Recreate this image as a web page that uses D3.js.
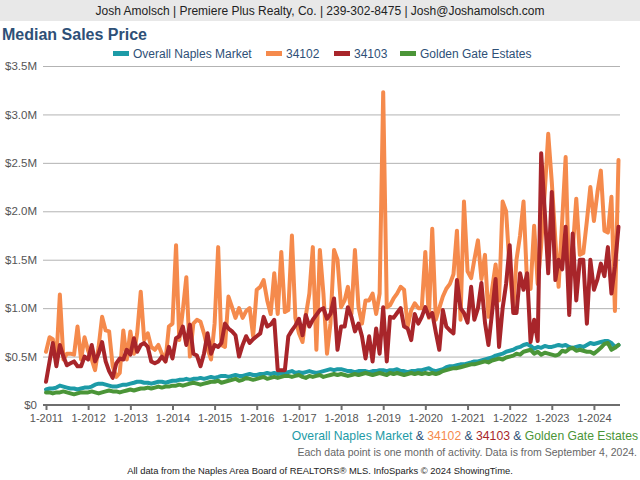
<!DOCTYPE html>
<html><head><meta charset="utf-8">
<script src="https://cdn.jsdelivr.net/npm/d3@7"></script>
<style>body{margin:0;background:#fff}svg{display:block;font-family:"Liberation Sans",Arial,sans-serif}</style>
</head><body>
<svg id="c" width="640" height="480"></svg>
<script>
const seriesNames = ["Overall Naples Market","34102","34103","Golden Gate Estates"];
const seriesColors = ["#1d9ba7","#f58a4c","#a8252a","#4b9538"];
const startMonth = "2011-01";
const yTicks = [0,0.5,1.0,1.5,2.0,2.5,3.0,3.5];
const xTickYears = [2011,2012,2013,2014,2015,2016,2017,2018,2019,2020,2021,2022,2023,2024];

// values in $ millions, monthly Jan 2011 - Aug 2024
const naples = [
0.16,0.17,0.17,0.18,0.20,0.19,0.18,0.17,0.17,0.16,0.17,0.18,
0.18,0.19,0.21,0.22,0.22,0.21,0.20,0.19,0.19,0.20,0.21,0.21,
0.22,0.23,0.24,0.24,0.23,0.23,0.22,0.23,0.24,0.24,0.23,0.24,
0.25,0.25,0.26,0.26,0.27,0.26,0.27,0.27,0.28,0.27,0.28,0.29,
0.28,0.29,0.30,0.30,0.29,0.30,0.31,0.30,0.30,0.31,0.32,0.31,
0.31,0.32,0.32,0.33,0.32,0.33,0.32,0.33,0.33,0.34,0.35,0.33,
0.34,0.33,0.34,0.35,0.34,0.33,0.34,0.35,0.36,0.37,0.36,0.37,
0.37,0.36,0.35,0.35,0.34,0.35,0.35,0.35,0.34,0.35,0.35,0.36,
0.36,0.35,0.36,0.36,0.37,0.35,0.35,0.34,0.35,0.35,0.36,0.36,
0.37,0.38,0.36,0.35,0.36,0.37,0.39,0.40,0.40,0.41,0.42,0.42,
0.43,0.44,0.45,0.45,0.46,0.47,0.48,0.49,0.51,0.52,0.53,0.55,
0.56,0.57,0.59,0.60,0.62,0.63,0.61,0.58,0.60,0.59,0.61,0.60,
0.60,0.61,0.62,0.61,0.62,0.60,0.59,0.60,0.61,0.60,0.62,0.64,
0.63,0.64,0.65,0.66,0.66,0.64,0.60,0.62];
const zip34102 = [
0.55,0.70,0.68,0.47,1.14,0.47,0.53,0.53,0.52,0.81,0.47,0.70,
0.56,0.47,0.36,0.60,0.91,0.77,0.76,0.40,0.29,0.33,0.77,0.47,
0.76,0.53,0.74,1.17,0.67,0.74,0.60,0.57,0.62,0.53,0.45,0.81,
0.84,1.65,0.67,0.98,1.32,0.50,0.84,0.88,0.86,0.74,0.58,0.47,
0.84,1.63,0.62,0.60,1.12,1.01,0.90,1.00,0.90,0.97,1.00,0.71,
1.19,1.22,1.29,1.08,0.94,1.36,0.94,1.58,0.96,0.98,1.75,0.90,
0.74,0.65,0.92,1.15,1.63,0.57,1.60,1.15,0.53,0.84,1.60,1.50,
1.01,1.08,1.22,0.94,1.60,1.01,0.84,1.08,1.08,1.15,0.94,1.15,
3.23,1.01,1.03,1.10,1.15,1.22,1.19,0.81,0.98,1.05,1.00,1.00,
1.58,0.90,1.82,0.88,1.00,1.12,1.20,1.25,1.35,1.80,0.88,2.10,
1.38,1.31,1.50,1.70,1.30,1.55,0.91,1.19,1.45,1.08,2.10,2.00,
1.40,1.00,1.50,1.75,2.10,1.25,1.20,1.85,1.25,1.65,2.20,2.80,
2.30,1.70,1.22,1.90,2.56,1.25,1.60,2.13,1.55,1.57,1.90,2.25,
1.90,2.20,2.42,1.80,1.78,2.15,0.97,2.53];
const zip34103 = [
0.24,0.45,0.64,0.40,0.62,0.50,0.41,0.43,0.45,0.40,0.40,0.50,
0.47,0.62,0.45,0.53,0.65,0.45,0.35,0.28,0.43,0.48,0.47,0.57,
0.52,0.69,0.55,0.62,0.64,0.60,0.45,0.43,0.45,0.50,0.45,0.60,
0.48,0.69,0.71,0.81,0.62,0.83,0.53,0.51,0.40,0.53,0.74,0.53,
0.62,0.60,0.64,0.84,0.79,0.76,0.72,0.50,0.62,0.71,0.64,0.68,
0.71,0.74,0.91,0.81,0.83,0.88,0.36,0.36,0.36,0.71,0.77,0.82,
0.89,0.72,0.93,0.81,0.88,0.93,0.98,1.00,0.89,0.94,1.10,0.57,
0.81,0.81,1.01,0.91,0.76,0.84,0.71,0.48,0.71,0.45,0.79,0.53,
1.01,0.45,0.91,0.90,0.95,1.00,0.81,0.79,0.67,0.94,0.84,0.91,
1.01,0.91,0.95,0.75,0.57,0.98,0.81,0.77,0.74,1.29,1.00,0.95,
0.85,1.22,0.88,1.00,1.26,0.85,0.62,0.95,1.30,0.60,1.00,1.25,
1.65,0.95,0.95,1.36,1.19,1.36,0.65,0.88,0.66,2.60,2.00,1.36,
2.20,1.29,1.50,1.40,1.84,0.93,1.77,1.08,1.50,1.50,0.84,1.50,
1.19,1.30,1.46,1.33,1.63,1.15,1.43,1.84];
const goldenGate = [
0.13,0.13,0.12,0.13,0.13,0.14,0.13,0.12,0.11,0.12,0.13,0.13,
0.13,0.14,0.13,0.12,0.13,0.14,0.15,0.14,0.14,0.13,0.14,0.15,
0.16,0.15,0.16,0.17,0.17,0.18,0.17,0.18,0.19,0.18,0.19,0.19,
0.20,0.20,0.21,0.20,0.21,0.22,0.23,0.22,0.21,0.22,0.23,0.24,
0.24,0.25,0.23,0.24,0.25,0.26,0.27,0.25,0.26,0.28,0.27,0.26,
0.27,0.28,0.29,0.27,0.28,0.29,0.28,0.29,0.30,0.30,0.29,0.30,
0.31,0.29,0.28,0.30,0.29,0.30,0.31,0.29,0.30,0.31,0.32,0.31,
0.32,0.31,0.30,0.31,0.32,0.31,0.32,0.33,0.32,0.31,0.32,0.33,
0.32,0.31,0.33,0.32,0.33,0.32,0.31,0.32,0.33,0.32,0.33,0.32,
0.33,0.32,0.33,0.32,0.33,0.35,0.36,0.37,0.38,0.38,0.39,0.40,
0.41,0.42,0.42,0.43,0.44,0.45,0.44,0.46,0.47,0.48,0.47,0.49,
0.50,0.51,0.53,0.52,0.55,0.56,0.57,0.53,0.55,0.52,0.54,0.53,
0.52,0.51,0.52,0.56,0.55,0.58,0.59,0.56,0.57,0.56,0.55,0.55,
0.53,0.56,0.59,0.63,0.64,0.57,0.59,0.62];

const allSeries = [naples, zip34102, zip34103, goldenGate];
const svg = d3.select("#c");
const parse = d3.timeParse("%Y-%m");
const t0 = parse(startMonth);
const dates = naples.map((_, i) => d3.timeMonth.offset(t0, i));

const x = d3.scaleTime().domain([t0, dates[dates.length-1]]).range([46, 618.5]);
const y = d3.scaleLinear().domain([0, 3.5]).range([405, 66]);

// header band
svg.append("rect").attr("x",0).attr("y",0).attr("width",640).attr("height",21).attr("fill","#e8e8e8");
svg.append("text").attr("x",320).attr("y",15).attr("text-anchor","middle").attr("font-size",12).attr("fill","#222")
  .text("Josh Amolsch | Premiere Plus Realty, Co. | 239-302-8475 | Josh@Joshamolsch.com");

svg.append("text").attr("x",2).attr("y",40).attr("font-size",16).attr("font-weight","bold").attr("fill","#2e5077")
  .text("Median Sales Price");

// legend
const legX = [113, 266, 334, 400];
seriesNames.forEach((n, k) => {
  svg.append("rect").attr("x",legX[k]).attr("y",51).attr("width",16).attr("height",5).attr("fill",seriesColors[k]);
  svg.append("text").attr("x",legX[k]+20).attr("y",58).attr("font-size",12).attr("fill","#2e5077").text(n);
});

// gridlines + y axis labels
const yAxis = d3.axisLeft(y).tickValues(yTicks).tickSize(-(620-43))
  .tickFormat(v => v === 0 ? "$0" : "$" + v.toFixed(1) + "M");
const gy = svg.append("g").attr("transform","translate(43,0)").call(yAxis);
gy.select(".domain").remove();
gy.selectAll(".tick line").attr("stroke","#b3b3b3").attr("stroke-width",1);
gy.selectAll(".tick text").attr("x",-6).attr("font-size",11.5).attr("fill","#555").attr("font-family","Liberation Sans, Arial, sans-serif");

// x axis
const xAxis = d3.axisBottom(x).tickValues(xTickYears.map(yr => new Date(yr,0,1)))
  .tickSize(5).tickFormat(d3.timeFormat("1-%Y"));
const gx = svg.append("g").attr("transform","translate(0,405)").call(xAxis);
gx.select(".domain").attr("d","M43,0H620").attr("stroke","#6e6e6e").attr("stroke-width",2);
gx.selectAll(".tick line").attr("stroke","#6e6e6e").attr("stroke-width",2);
gx.selectAll(".tick text").attr("y",9).attr("font-size",11).attr("fill","#555").attr("font-family","Liberation Sans, Arial, sans-serif");

// lines
const line = d3.line().x((d,i) => x(dates[i])).y(d => y(d)).curve(d3.curveLinear);
allSeries.forEach((s, k) => {
  svg.append("path").datum(s).attr("d", line).attr("fill","none")
    .attr("stroke", seriesColors[k]).attr("stroke-width",4)
    .attr("stroke-linejoin","round").attr("stroke-linecap","round");
});

// footer
const ft = svg.append("text").attr("x",638).attr("y",440).attr("text-anchor","end").attr("font-size",12.2);
ft.append("tspan").attr("fill",seriesColors[0]).text("Overall Naples Market");
ft.append("tspan").attr("fill","#2e5077").text(" & ");
ft.append("tspan").attr("fill",seriesColors[1]).text("34102");
ft.append("tspan").attr("fill","#2e5077").text(" & ");
ft.append("tspan").attr("fill",seriesColors[2]).text("34103");
ft.append("tspan").attr("fill","#2e5077").text(" & ");
ft.append("tspan").attr("fill",seriesColors[3]).text("Golden Gate Estates");

svg.append("text").attr("x",637).attr("y",456).attr("text-anchor","end").attr("font-size",10.5).attr("fill","#666")
  .text("Each data point is one month of activity. Data is from September 4, 2024.");
svg.append("text").attr("x",320).attr("y",474).attr("text-anchor","middle").attr("font-size",9.4).attr("fill","#222")
  .text("All data from the Naples Area Board of REALTORS® MLS. InfoSparks © 2024 ShowingTime.");
</script>
</body></html>
